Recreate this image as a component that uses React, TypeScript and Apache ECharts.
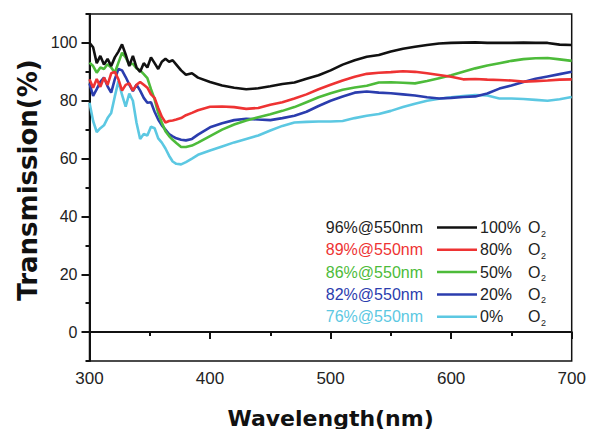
import React, { useEffect, useRef } from "react";
import * as echarts from "echarts";

const wavelengths = [
  300, 303, 306, 309, 312, 315, 318, 321, 324, 327, 330, 333, 336, 339, 342, 345, 348, 351, 354, 357,
  360, 363, 366, 369, 372, 376, 380, 385, 390, 400, 410, 420, 430, 440, 450, 460, 470, 480, 490, 500,
  510, 520, 530, 540, 550, 560, 570, 580, 590, 600, 610, 620, 630, 640, 650, 660, 670, 680, 690, 700,
];

const o2_100 = [
  100, 98.5, 93, 95.5, 92.5, 94.5, 92, 95, 97, 99.5, 96, 92, 95.5, 91.5, 90, 93, 91.5, 95, 93, 91,
  93.5, 94.5, 93.5, 94, 92.5, 90.5, 89, 89.5, 88, 86.5, 85.3, 84.5, 84, 84.3, 85, 85.8, 86.3, 87.6, 88.8, 90.5,
  92.5, 94, 95.2, 95.8, 97, 98, 98.7, 99.3, 99.8, 100, 100.1, 100.2, 100, 100, 100, 100.1, 100, 100, 99.4, 99.3,
];

const o2_80 = [
  87.4, 84.5, 87.5, 84.8, 88, 85.5, 89.5, 90, 87.4, 83.5, 85.5, 86, 83.5, 85.5, 86.5, 85.5, 84.5, 82.2, 81, 77.5,
  74.5, 72.5, 73, 73.2, 73.5, 74, 75, 75.8, 76.7, 77.9, 78, 77.8, 77.2, 77.5, 78.6, 79.5, 80.8, 82.2, 84, 85.5,
  87, 88.3, 89.3, 89.7, 89.9, 90.2, 90, 89.5, 88.9, 88.3, 87.4, 87.5, 87.3, 87.2, 87, 86.6, 86.8, 87, 87.3, 87.4,
];

const o2_50 = [
  93.2, 92, 89.7, 91.5, 91, 92.6, 91.5, 89.7, 93.2, 96.6, 95, 92.5, 92.8, 91.2, 90.5, 89.2, 87.8, 84, 80.5, 75.8,
  72.4, 69.5, 67.8, 66.5, 65.4, 64, 64, 64.5, 65.5, 67.8, 70, 71.8, 73.2, 74.3, 75.3, 76.5, 77.8, 79.5, 81.2, 82.6,
  83.8, 84.6, 85.2, 86.3, 86.4, 86.2, 86, 86.8, 87.8, 88.8, 90, 91.2, 92.2, 93, 93.8, 94.4, 94.7, 94.8, 94.3, 93.8,
];

const o2_20 = [
  86, 81.7, 84, 86.5, 88, 85, 82.8, 87.5, 91, 90.5, 88.2, 85.6, 83.3, 85.6, 83.5, 81, 79.3, 79.5, 76.2, 73.5,
  71.5, 70, 68.5, 67.7, 67, 66.5, 66.3, 66.8, 68.3, 70.8, 72.2, 73.3, 73.8, 73.5, 73.3, 74, 74.8, 76.2, 78.2, 80,
  81.5, 82.8, 83.2, 82.8, 82.6, 82.2, 81.8, 81.2, 80.8, 81, 81.3, 81.5, 82.5, 84.2, 85.3, 86.5, 87.6, 88.4, 89.2, 90,
];

const o2_0 = [
  79.3, 73, 69.2, 70.5, 71.5, 74, 75.8, 81.5, 86.8, 82, 78, 82.5, 80, 72.4, 66.8, 68.5, 68, 71, 70.5, 67,
  65.5, 63.5, 61, 59, 58.2, 58, 58.8, 60, 61.3, 62.8, 64.2, 65.6, 66.8, 68, 69.7, 71.3, 72.5, 72.7, 72.8, 72.8,
  73, 74, 74.8, 75.4, 76.5, 77.8, 79, 80, 80.7, 81.2, 81.6, 82, 81.8, 80.8, 80.8, 80.6, 80.3, 80, 80.5, 81.3,
];

const seriesNames = ["100% O2", "80% O2", "50% O2", "20% O2", "0% O2"];
const seriesValues = [o2_100, o2_80, o2_50, o2_20, o2_0];
const seriesColors = ["#111111", "#ee3333", "#4dbb3a", "#2b3dae", "#5cc8e2"];
const legendLeftTexts = ["96%@550nm", "89%@550nm", "86%@550nm", "82%@550nm", "76%@550nm"];
const legendPercentTexts = ["100%", "80%", "50%", "20%", "0%"];

const majorYTicks = [0, 20, 40, 60, 80, 100];
const minorYTicks = [-10, 10, 30, 50, 70, 90, 110];

export default function App() {
  const ref = useRef<HTMLDivElement>(null);

  useEffect(() => {
    if (!ref.current) return;
    const chart = echarts.init(ref.current, undefined, { renderer: "svg" });

    const legendGraphics: any[] = [];
    const rowY0 = 227.5;
    const rowStep = 22.3;
    legendLeftTexts.forEach((t, i) => {
      const y = rowY0 + i * rowStep;
      legendGraphics.push({
        type: "text",
        x: 423,
        y,
        style: {
          text: t,
          fill: seriesColors[i] === "#111111" ? "#222222" : seriesColors[i],
          font: '16px "Liberation Sans", Arial, sans-serif',
          align: "right",
          verticalAlign: "middle",
        },
      });
      legendGraphics.push({
        type: "line",
        shape: { x1: 437, y1: y, x2: 477, y2: y },
        style: { stroke: seriesColors[i], lineWidth: 2.5 },
      });
      legendGraphics.push({
        type: "text",
        x: 480,
        y,
        style: {
          text: legendPercentTexts[i],
          fill: "#222222",
          font: '16px "Liberation Sans", Arial, sans-serif',
          align: "left",
          verticalAlign: "middle",
        },
      });
      legendGraphics.push({
        type: "text",
        x: 528,
        y,
        style: {
          text: "O",
          fill: "#222222",
          font: '16px "Liberation Sans", Arial, sans-serif',
          align: "left",
          verticalAlign: "middle",
        },
      });
      legendGraphics.push({
        type: "text",
        x: 541,
        y: y + 6,
        style: {
          text: "2",
          fill: "#222222",
          font: '9px "Liberation Sans", Arial, sans-serif',
          align: "left",
          verticalAlign: "middle",
        },
      });
    });

    const option: any = {
      animation: false,
      backgroundColor: "#ffffff",
      grid: {
        left: 89.5,
        right: 17.3,
        top: 14,
        bottom: 68,
        show: true,
        borderColor: "#111",
        borderWidth: 1.5,
        backgroundColor: "transparent",
      },
      xAxis: {
        type: "value",
        min: 300,
        max: 700,
        interval: 100,
        axisLine: { show: true, lineStyle: { color: "#111", width: 2 } },
        axisTick: { show: true, length: 7, lineStyle: { color: "#111", width: 2 } },
        minorTick: { show: true, splitNumber: 2, length: 4, lineStyle: { color: "#111", width: 2 } },
        axisLabel: {
          margin: 9,
          color: "#222",
          fontSize: 17,
          fontFamily: '"Liberation Sans", Arial, sans-serif',
        },
        splitLine: { show: false },
        minorSplitLine: { show: false },
      },
      yAxis: [
        {
          type: "value",
          min: -10,
          max: 110,
          interval: 10,
          axisLine: { show: true, lineStyle: { color: "#111", width: 2 } },
          axisTick: {
            show: true,
            length: 8,
            customValues: majorYTicks,
            lineStyle: { color: "#111", width: 2 },
          },
          axisLabel: {
            margin: 12,
            customValues: majorYTicks,
            color: "#222",
            fontSize: 16,
            fontFamily: '"Liberation Sans", Arial, sans-serif',
          },
          splitLine: { show: false },
        },
        {
          type: "value",
          position: "left",
          min: -10,
          max: 110,
          interval: 10,
          axisLine: { show: false },
          axisTick: {
            show: true,
            length: 4,
            customValues: minorYTicks,
            lineStyle: { color: "#111", width: 2 },
          },
          axisLabel: { show: false },
          splitLine: { show: false },
        },
      ],
      series: seriesValues
        .map((vals, i) => ({
          name: seriesNames[i],
          type: "line",
          yAxisIndex: 0,
          showSymbol: false,
          symbol: "none",
          data: wavelengths.map((w, j) => [w, vals[j]]),
          lineStyle: { color: seriesColors[i], width: 2.6 },
          itemStyle: { color: seriesColors[i] },
          z: 10 - i,
        }))
        .reverse(),
      graphic: [
        {
          type: "text",
          x: 330.6,
          y: 418,
          style: {
            text: "Wavelength(nm)",
            fill: "#111",
            font: 'bold 22px "DejaVu Sans", sans-serif',
            align: "center",
            verticalAlign: "middle",
          },
        },
        {
          type: "text",
          x: 28,
          y: 180,
          rotation: Math.PI / 2,
          style: {
            text: "Transmission(%)",
            fill: "#111",
            font: 'bold 26px "DejaVu Sans", sans-serif',
            align: "center",
            verticalAlign: "middle",
          },
        },
        ...legendGraphics,
      ],
    };

    chart.setOption(option);
    return () => chart.dispose();
  }, []);

  return (
    <div
      ref={ref}
      style={{ position: "fixed", left: 0, top: 0, width: 589, height: 429 }}
    />
  );
}
